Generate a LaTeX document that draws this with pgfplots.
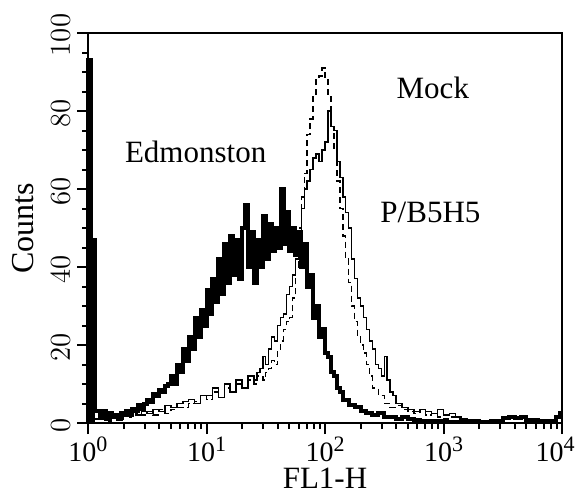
\documentclass[border=0pt]{standalone}
\usepackage{fontspec}
\setmainfont{Liberation Serif}
\usepackage{pgfplots}
\pgfplotsset{compat=1.18}

\pgfplotstableread{
x y
1 0
1 93
1.05 47
1.15 3
1.259 1.5
1.334 3
1.413 1
1.496 2.5
1.585 1.5
1.679 2
1.778 1
1.884 2.5
1.995 2
2.113 3
2.239 2
2.371 3.5
2.512 3
2.661 4.5
2.818 3.5
2.985 5
3.162 6
3.350 5.5
3.548 7.5
3.758 7
3.981 8.5
4.217 8
4.467 9.5
4.732 10
5.012 12
5.309 10
5.623 15
5.957 13
6.310 19
6.683 16
7.079 22
7.499 19
7.943 27
8.414 22
8.913 29
9.441 25
10.00 34
10.59 28
11.22 37
11.89 31
12.59 42
13.34 33
14.13 46
14.96 36
15.85 48
16.79 38
17.78 47
18.84 37
19.95 50
21.13 56
22.39 40
23.71 49
25.12 36
26.61 47
28.18 40
29.85 53
31.62 42
33.50 51
35.48 44
37.58 50
39.81 45
42.17 60
44.67 46
47.32 54
50.12 44
53.09 50
56.23 43
59.57 49
63.10 40
66.83 46
70.79 35
74.99 38
79.43 27
84.14 30
89.13 22
94.41 24
100.0 18
105.9 17
112.2 13
118.9 12
125.9 9
133.4 8
141.3 6
149.6 6
158.5 4.5
177.8 4
199.5 3
223.9 2.5
251.2 2
281.8 2.5
316.2 1.5
354.8 1.5
398.1 1
446.7 1.5
501.2 1
562.3 0.8
631.0 0.5
794.3 0.5
1000 0.3
1259 0.3
1585 0.5
1995 0.3
2512 0.5
3162 1.3
3548 1.5
3981 1.2
4467 1.5
5012 0.8
6310 0.4
7943 0.5
8913 1.5
9550 2.5
10000 2.5
}\edmonston

\pgfplotstableread{
x y
1.259 1
1.413 0.5
1.585 1.5
1.778 1
1.995 2
2.239 1.5
2.512 2.5
2.818 2
3.162 3
3.548 2
3.981 3.5
4.467 2.5
5.012 3.5
5.623 4
6.310 4
7.079 5
7.943 5.5
8.913 7
10.00 6
11.22 8
12.59 6.5
14.13 9
15.85 8
17.78 10
19.95 9
22.39 11
25.12 10
26.61 12
28.18 12
29.85 11
31.62 13
33.50 14
35.48 16
37.58 15
39.81 19
42.17 21
44.67 24
47.32 26
50.12 27
53.09 32
56.23 40
59.57 50
63.10 58
66.83 64
70.79 74
74.99 78
79.43 84
84.14 88
89.13 89
94.41 91
100.0 88
105.9 84
112.2 76
118.9 70
125.9 62
133.4 55
141.3 48
149.6 42
158.5 36
167.9 30
177.8 26
188.4 22
199.5 20
211.3 18
223.9 15
237.1 12
251.2 9
281.8 7
316.2 5
354.8 4
398.1 4.5
446.7 3.5
501.2 3
562.3 2.5
631.0 3.5
707.9 2
794.3 2.5
891.3 1.5
1000 1
1122 1.5
1259 1
1413 0.5
1585 0.5
1995 0.3
}\mock

\pgfplotstableread{
x y
1.122 1
1.259 2
1.413 1
1.585 2.5
1.778 1.5
1.995 2
2.239 3
2.512 2
2.818 3
3.162 2.5
3.548 3.5
3.981 3
4.467 4.5
5.012 4
5.623 5
6.310 5.5
7.079 6
7.943 5
8.913 7
10.00 7
11.22 9
12.59 6.5
14.13 10
15.85 8
17.78 11
19.95 9
22.39 12
25.12 11
26.61 13
28.18 14
29.85 17
31.62 15
33.50 19
35.48 22
37.58 21
39.81 25
42.17 27
44.67 28
47.32 33
50.12 35
53.09 38
56.23 42
59.57 49
63.10 55
66.83 60
70.79 62
74.99 65
79.43 68
84.14 69
89.13 67
94.41 70
100.0 72
105.9 80
112.2 76
118.9 75
125.9 67
133.4 63
141.3 58
149.6 54
158.5 50
167.9 42
177.8 37
188.4 32
199.5 30
211.3 27
223.9 24
237.1 21
251.2 19
266.1 15
281.8 14
298.5 12
316.2 17
335.0 11
354.8 8
375.8 7
398.1 5
446.7 4
501.2 3.5
562.3 3
631.0 3.5
707.9 3
794.3 2.5
891.3 3.5
1000 2
1122 2.5
1259 1.5
1413 1
1585 0.8
1778 0.5
1995 0.3
}\pbfive

\newcommand{\dec}[1]{10\raisebox{0.8ex}{\fontsize{11}{11}\selectfont #1}}

\begin{document}
\begin{tikzpicture}
\begin{axis}[
  xmode=log,
  width=237pt, height=195pt, scale only axis,
  xmin=1, xmax=10000, ymin=0, ymax=100,
  xtick={1,10,100,1000,10000},
  xticklabels={\dec{0},\dec{1},\dec{2},\dec{3},\hspace*{-7pt}\dec{4}},
  minor xtick={2,3,4,5,6,7,8,9,20,30,40,50,60,70,80,90,200,300,400,500,600,700,800,900,2000,3000,4000,5000,6000,7000,8000,9000},
  ytick={0,20,40,60,80,100},
  minor ytick={5,10,15,25,30,35,45,50,55,65,70,75,85,90,95},
  tick align=outside, xtick pos=left, ytick pos=left,
  tickwidth=5.5pt, subtickwidth=3pt,
  every tick/.append style={black, line width=1pt},
  xticklabel style={font=\fontsize{14}{15}\selectfont, yshift=2pt},
  yticklabel style={font=\fontsize{14}{15}\selectfont, rotate=90, anchor=south, xshift=-1pt},
  xlabel={FL1-H}, ylabel={Counts},
  xlabel style={font=\fontsize{15.5}{16}\selectfont, yshift=4pt},
  ylabel style={font=\fontsize{16}{17}\selectfont, yshift=2pt},
  clip=false,
]
\addplot[const plot, black, line width=0.75pt] table[x=x,y=y] {\pbfive};
\addplot[const plot, black, line width=0.75pt, dash pattern=on 3pt off 2pt] table[x=x,y=y] {\mock};
\addplot[const plot, black, line width=2pt, line join=miter] table[x=x,y=y] {\edmonston};
\addplot[const plot, fill=black, draw=black, line width=0.5pt] coordinates {(1,93) (1.05,47) (1.14,0)} \closedcycle;
\pgfplotsinvokeforeach{1,10,100,1000,10000}{\coordinate (xt#1) at (axis cs:#1,0);}
\pgfplotsinvokeforeach{2,3,4,5,6,7,8,9,20,30,40,50,60,70,80,90,200,300,400,500,600,700,800,900,2000,3000,4000,5000,6000,7000,8000,9000}{\coordinate (xm#1) at (axis cs:#1,0);}
\pgfplotsinvokeforeach{0,20,40,60,80,100}{\coordinate (yt#1) at (axis cs:1,#1);}
\pgfplotsinvokeforeach{5,10,15,25,30,35,45,50,55,65,70,75,85,90,95}{\coordinate (ym#1) at (axis cs:1,#1);}
\node[font=\fontsize{15.5}{16}\selectfont] at (axis cs:8.1,69.5) {Edmonston};
\node[font=\fontsize{15.5}{16}\selectfont] at (axis cs:813,86) {Mock};
\node[font=\fontsize{15.5}{16}\selectfont] at (axis cs:776,54) {P/B5H5};
\end{axis}
% frame and ticks, drawn outside the axis so nothing clips them
\draw[line width=1pt] (current axis.south west) rectangle (current axis.north east);
\foreach \v in {1,10,100,1000,10000} \draw[line width=1pt] (xt\v) -- ++(0pt,-5.5pt);
\foreach \v in {2,3,4,5,6,7,8,9,20,30,40,50,60,70,80,90,200,300,400,500,600,700,800,900,2000,3000,4000,5000,6000,7000,8000,9000}
  \draw[line width=1pt] (xm\v) -- ++(0pt,-3pt);
\foreach \v in {0,20,40,60,80,100} \draw[line width=1pt] (yt\v) -- ++(-5.5pt,0pt);
\foreach \v in {5,10,15,25,30,35,45,50,55,65,70,75,85,90,95} \draw[line width=1pt] (ym\v) -- ++(-3pt,0pt);
\pgfresetboundingbox
\path[use as bounding box] ([shift={(-44pt,-35.5pt)}]current axis.south west) rectangle ([shift={(7.5pt,16.5pt)}]current axis.north east);
\end{tikzpicture}
\end{document}
